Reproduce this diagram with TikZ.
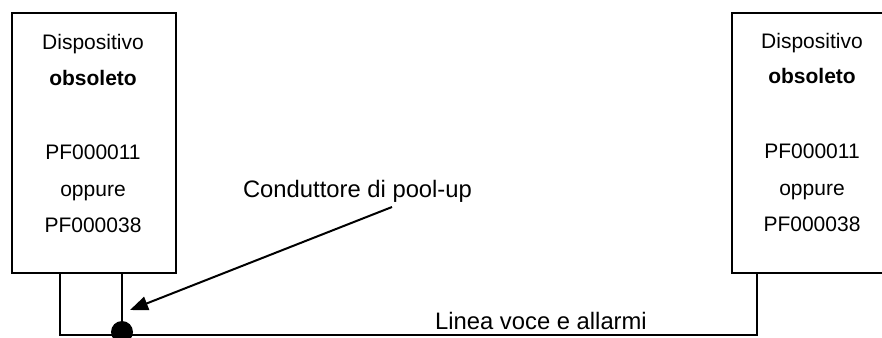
\documentclass[tikz,border=0pt]{standalone}
\usepackage{fontspec}
\setmainfont{Liberation Sans}
\usetikzlibrary{arrows.meta}

\begin{document}
\begin{tikzpicture}[x=0.5pt,y=-0.5pt,line width=1pt,
  box/.style={draw,rectangle,minimum width=82pt,minimum height=130pt},
  txt/.style={anchor=base,font=\fontsize{10.5}{12}\selectfont},
  lbl/.style={anchor=base,font=\fontsize{11.9}{14}\selectfont}]
\tikzstyle{every node}+=[inner sep=0pt]
\clip (0,0) rectangle (882,337);
% left device
\node [box] (devL) at (93.7,143) {};
\node [txt] (devLa) at (93,49) {Dispositivo};
\node [txt] (devLb) at (93,85) {\bfseries obsoleto};
\node [txt] (devLc) at (93,159) {PF000011};
\node [txt] (devLd) at (93,196) {oppure};
\node [txt] (devLe) at (93,232) {PF000038};
% right device
\node [box] (devR) at (813.7,143) {};
\node [txt] (devRa) at (812,48) {Dispositivo};
\node [txt] (devRb) at (812,83.5) {\bfseries obsoleto};
\node [txt] (devRc) at (812,158) {PF000011};
\node [txt] (devRd) at (812,195) {oppure};
\node [txt] (devRe) at (812,231) {PF000038};
% labels
\node [lbl] (pull) at (357.5,197) {Conduttore di pool-up};
\node [lbl] (line) at (541,329) {Linea voce e allarmi};
% line
\coordinate (jL) at (60,335);
\coordinate (jR) at (757,335);
\coordinate (jP) at (122,335);
\coordinate (from) at (392,207);
\coordinate (tip) at (130,310);
\draw (devL.south -| jL) -- (jL) -- (jR) -- (devR.south -| jR);
\draw (devL.south -| jP) -- (jP);
\node [circle,fill,minimum size=11pt] (pin) at (122,332) {};
\draw [-{Triangle[length=9pt,width=7pt]}] (from) -- (tip);
\end{tikzpicture}
\end{document}
